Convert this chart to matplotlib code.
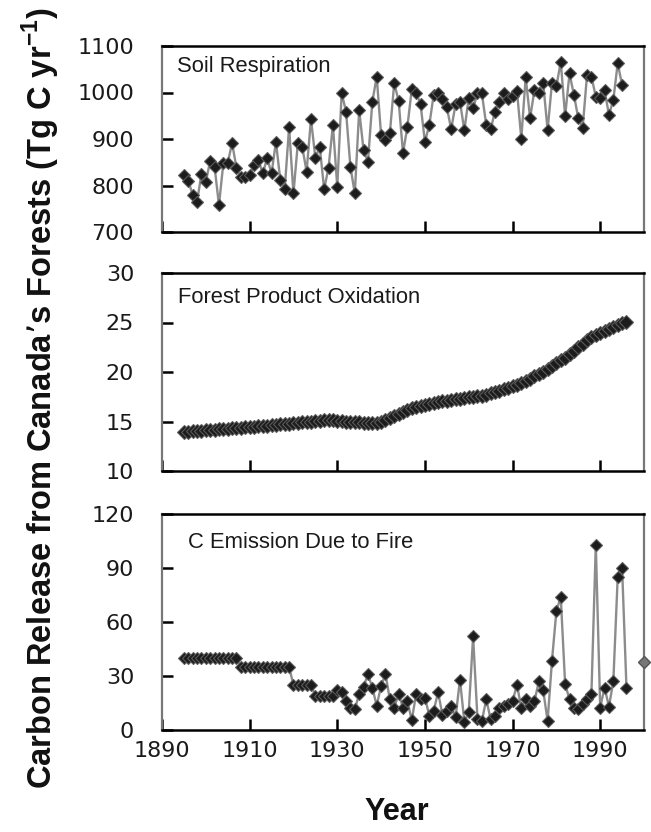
import matplotlib
matplotlib.use("Agg")
import matplotlib.pyplot as plt
from matplotlib import font_manager

# ---------------- data ----------------
soil_years = list(range(1895, 1996))
soil_values = [822, 810, 780, 765, 825, 808, 853, 840, 758, 848,
               849, 891, 838, 819, 819, 822, 844, 855, 826, 859,
               826, 894, 812, 792, 925, 783, 891, 883, 830, 943,
               859, 883, 792, 838, 930, 797, 999, 959, 840, 783,
               962, 876, 851, 980, 1034, 909, 898, 913, 1020, 982,
               870, 926, 1007, 999, 975, 894, 930, 995, 999, 985,
               968, 921, 975, 980, 919, 988, 966, 998, 998, 930,
               921, 959, 980, 998, 985, 992, 1004, 901, 1033, 945,
               1005, 999, 1020, 919, 1021, 1013, 1066, 949, 1041, 995,
               945, 924, 1038, 1034, 991, 988, 1005, 952, 984, 1063,
               1016]

product_years = list(range(1895, 1997))
product_values = [13.9, 13.95, 14.0, 14.0, 14.05, 14.1, 14.1, 14.15, 14.2, 14.2,
                  14.25, 14.3, 14.3, 14.35, 14.4, 14.4, 14.45, 14.5, 14.5, 14.55,
                  14.6, 14.65, 14.7, 14.7, 14.75, 14.8, 14.85, 14.9, 14.95, 15.0,
                  15.05, 15.1, 15.15, 15.2, 15.2, 15.1, 15.05, 15.0, 14.95, 14.9,
                  14.9, 14.85, 14.8, 14.8, 14.8, 15.0, 15.2, 15.4, 15.6, 15.8,
                  16.0, 16.2, 16.35, 16.5, 16.6, 16.7, 16.8, 16.9, 17.0, 17.05,
                  17.1, 17.2, 17.25, 17.3, 17.4, 17.45, 17.5, 17.55, 17.6, 17.7,
                  17.85, 18.0, 18.1, 18.25, 18.4, 18.55, 18.7, 18.9, 19.1, 19.3,
                  19.55, 19.8, 20.05, 20.35, 20.65, 20.95, 21.2, 21.45, 21.8, 22.15,
                  22.5, 22.85, 23.2, 23.5, 23.75, 23.95, 24.1, 24.3, 24.5, 24.7,
                  24.9, 25.1]

fire_years = list(range(1895, 1997))
fire_values = [40, 40, 40, 40, 40, 40, 40, 40, 40, 40,
               40, 40, 40, 35, 35, 35, 35, 35, 35, 35,
               35, 35, 35, 35, 35, 25, 25, 25, 25, 25,
               19, 19, 19, 19, 19, 22, 21, 16, 12.5, 11.5,
               20, 24, 31, 23.5, 13.5, 24.5, 31, 17, 12.5, 20,
               12.5, 16, 5.5, 20, 17, 18, 8, 10.5, 21, 8.5,
               10.5, 13.5, 7, 28, 4.5, 10, 52, 6, 5, 17,
               6, 8, 12, 13.5, 14.5, 16, 25, 12.5, 17, 13.5,
               16, 27, 22, 5, 38.5, 66, 74, 25.5, 17, 12.5,
               11.5, 14.5, 17, 20, 103, 12.5, 23.5, 13, 27, 85,
               90, 23.5]
fire_extra_years = [2000]
fire_extra_values = [38]

panel_titles = ["Soil Respiration", "Forest Product Oxidation", "C Emission Due to Fire"]
ylims = [(700, 1100), (10, 30), (0, 120)]
yticks = [[700, 800, 900, 1000, 1100], [10, 15, 20, 25, 30], [0, 30, 60, 90, 120]]
xticks = [1890, 1910, 1930, 1950, 1970, 1990]

# ---------------- style ----------------
plt.rcParams['font.family'] = ['Liberation Sans', 'DejaVu Sans']
names = {f.name for f in font_manager.fontManager.ttflist}
narrow = 'Liberation Sans Narrow' if 'Liberation Sans Narrow' in names else 'Liberation Sans'

fig = plt.figure(figsize=(6.51, 8.32), dpi=100)
W, H = 651, 832
left_px, right_px = 162, 644
boxes = [(46, 232), (273, 471), (514, 730)]
title_pos = [(177, 72), (178, 303), (188, 548)]

line_kw = dict(color='#8c8c8c', lw=1.7, marker='D', markersize=6.3,
               markerfacecolor='#1c1c1c', markeredgecolor='#5a5a5a',
               markeredgewidth=0.8)

series = [(soil_years, soil_values), (product_years, product_values), (fire_years, fire_values)]
axes = []
for i, (top, bot) in enumerate(boxes):
    ax = fig.add_axes([left_px / W, 1 - bot / H, (right_px - left_px) / W, (bot - top) / H])
    axes.append(ax)
    xs, ys = series[i]
    kw = dict(line_kw)
    if i == 1:
        kw['markersize'] = 7.2
    ax.plot(xs, ys, clip_on=False, zorder=3, **kw)
    ax.set_xlim(1890, 2000)
    ax.set_ylim(*ylims[i])
    ax.set_yticks(yticks[i])
    ax.set_xticks(xticks)
    ax.tick_params(direction='in', length=8, width=1.8, color='black',
                   labelsize=16, pad=20, axis='y')
    ax.tick_params(direction='in', length=8, width=1.8, color='black',
                   labelsize=16, pad=8, axis='x')
    if i < 2:
        ax.tick_params(axis='x', labelbottom=False)
    for s in ['top', 'bottom']:
        ax.spines[s].set_linewidth(1.8)
        ax.spines[s].set_color('black')
    for s in ['left', 'right']:
        ax.spines[s].set_linewidth(1.6)
        ax.spines[s].set_color('#777777')
    tx, ty = title_pos[i]
    fig.text(tx / W, 1 - ty / H, panel_titles[i],
             fontsize=15.8, color='#1a1a1a', ha='left', va='baseline')
    for lbl in ax.get_yticklabels() + ax.get_xticklabels():
        lbl.set_color('#1a1a1a')
        lbl.set_family(['DejaVu Sans'])

axes[2].plot(fire_extra_years, fire_extra_values, clip_on=False, zorder=3,
             linestyle='none', marker='D', markersize=6,
             markerfacecolor='#777777', markeredgecolor='#555555')

fig.text(41 / W, 1 - 398 / H,
         "Carbon Release from Canada\u2019s Forests (Tg C yr$^{\\mathregular{-1}}$)",
         rotation=90, ha='center', va='center', fontsize=23.5, fontweight='bold',
         family=[narrow, 'DejaVu Sans'], color='#111111')
fig.text(397 / W, 1 - 812 / H, "Year", ha='center', va='center',
         fontsize=22, fontweight='bold', color='#111111')

fig.savefig("out.png", dpi=100)
